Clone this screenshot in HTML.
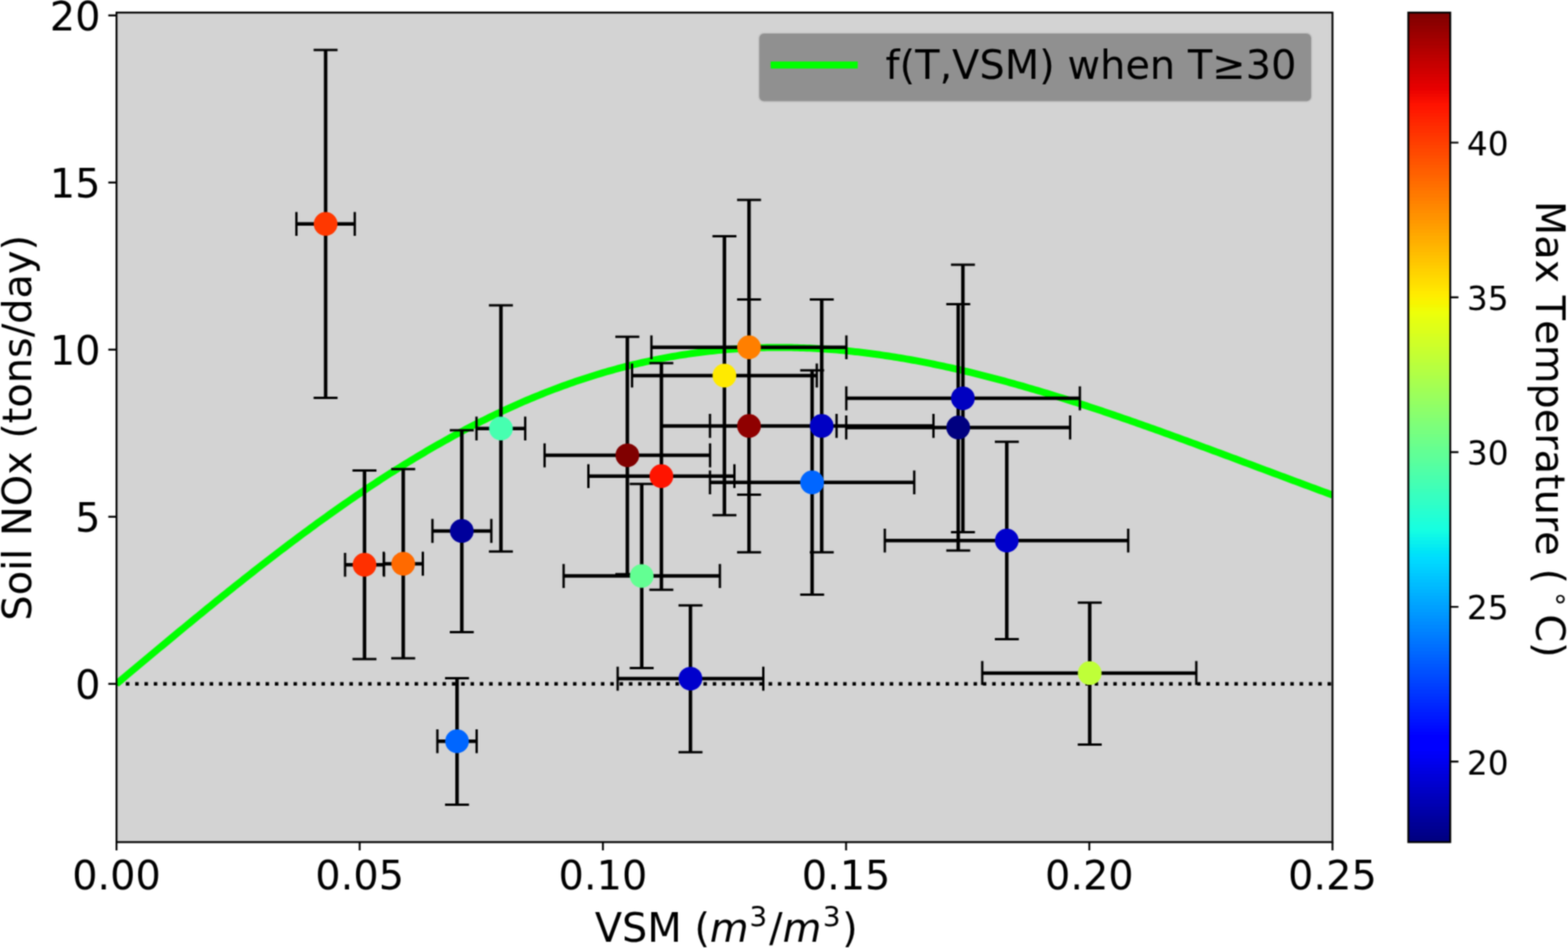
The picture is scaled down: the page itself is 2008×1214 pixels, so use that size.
<!DOCTYPE html>
<html><head><meta charset="utf-8"><title>Soil NOx vs VSM</title><style>html,body{margin:0;padding:0;background:#fff;width:2008px;height:1214px;overflow:hidden}svg{display:block}</style></head><body>
<svg width="2008" height="1214" viewBox="0 0 2008 1214">
<defs><filter id="soft" x="0" y="0" width="2008" height="1214" filterUnits="userSpaceOnUse" color-interpolation-filters="sRGB"><feConvolveMatrix order="5" kernelMatrix="0.00048 0.00501 0.01095 0.00501 0.00048 0.00501 0.05222 0.11405 0.05222 0.00501 0.01095 0.11405 0.24912 0.11405 0.01095 0.00501 0.05222 0.11405 0.05222 0.00501 0.00048 0.00501 0.01095 0.00501 0.00048" edgeMode="duplicate" preserveAlpha="true"/></filter>
<clipPath id="ax"><rect x="149.2" y="16.1" width="1557.2" height="1062.3"/></clipPath>
<linearGradient id="cb" x1="0" y1="1" x2="0" y2="0"><stop offset="0.00000" stop-color="#000080"/><stop offset="0.00391" stop-color="#000080"/><stop offset="0.00391" stop-color="#000084"/><stop offset="0.00781" stop-color="#000084"/><stop offset="0.00781" stop-color="#000089"/><stop offset="0.01172" stop-color="#000089"/><stop offset="0.01172" stop-color="#00008d"/><stop offset="0.01562" stop-color="#00008d"/><stop offset="0.01562" stop-color="#000092"/><stop offset="0.01953" stop-color="#000092"/><stop offset="0.01953" stop-color="#000096"/><stop offset="0.02344" stop-color="#000096"/><stop offset="0.02344" stop-color="#00009b"/><stop offset="0.02734" stop-color="#00009b"/><stop offset="0.02734" stop-color="#00009f"/><stop offset="0.03125" stop-color="#00009f"/><stop offset="0.03125" stop-color="#0000a4"/><stop offset="0.03516" stop-color="#0000a4"/><stop offset="0.03516" stop-color="#0000a8"/><stop offset="0.03906" stop-color="#0000a8"/><stop offset="0.03906" stop-color="#0000ad"/><stop offset="0.04297" stop-color="#0000ad"/><stop offset="0.04297" stop-color="#0000b2"/><stop offset="0.04688" stop-color="#0000b2"/><stop offset="0.04688" stop-color="#0000b6"/><stop offset="0.05078" stop-color="#0000b6"/><stop offset="0.05078" stop-color="#0000bb"/><stop offset="0.05469" stop-color="#0000bb"/><stop offset="0.05469" stop-color="#0000bf"/><stop offset="0.05859" stop-color="#0000bf"/><stop offset="0.05859" stop-color="#0000c4"/><stop offset="0.06250" stop-color="#0000c4"/><stop offset="0.06250" stop-color="#0000c8"/><stop offset="0.06641" stop-color="#0000c8"/><stop offset="0.06641" stop-color="#0000cd"/><stop offset="0.07031" stop-color="#0000cd"/><stop offset="0.07031" stop-color="#0000d1"/><stop offset="0.07422" stop-color="#0000d1"/><stop offset="0.07422" stop-color="#0000d6"/><stop offset="0.07812" stop-color="#0000d6"/><stop offset="0.07812" stop-color="#0000da"/><stop offset="0.08203" stop-color="#0000da"/><stop offset="0.08203" stop-color="#0000df"/><stop offset="0.08594" stop-color="#0000df"/><stop offset="0.08594" stop-color="#0000e3"/><stop offset="0.08984" stop-color="#0000e3"/><stop offset="0.08984" stop-color="#0000e8"/><stop offset="0.09375" stop-color="#0000e8"/><stop offset="0.09375" stop-color="#0000ed"/><stop offset="0.09766" stop-color="#0000ed"/><stop offset="0.09766" stop-color="#0000f1"/><stop offset="0.10156" stop-color="#0000f1"/><stop offset="0.10156" stop-color="#0000f6"/><stop offset="0.10547" stop-color="#0000f6"/><stop offset="0.10547" stop-color="#0000fa"/><stop offset="0.10938" stop-color="#0000fa"/><stop offset="0.10938" stop-color="#0000ff"/><stop offset="0.11328" stop-color="#0000ff"/><stop offset="0.11328" stop-color="#0000ff"/><stop offset="0.11719" stop-color="#0000ff"/><stop offset="0.11719" stop-color="#0000ff"/><stop offset="0.12109" stop-color="#0000ff"/><stop offset="0.12109" stop-color="#0000ff"/><stop offset="0.12500" stop-color="#0000ff"/><stop offset="0.12500" stop-color="#0000ff"/><stop offset="0.12891" stop-color="#0000ff"/><stop offset="0.12891" stop-color="#0004ff"/><stop offset="0.13281" stop-color="#0004ff"/><stop offset="0.13281" stop-color="#0008ff"/><stop offset="0.13672" stop-color="#0008ff"/><stop offset="0.13672" stop-color="#000cff"/><stop offset="0.14062" stop-color="#000cff"/><stop offset="0.14062" stop-color="#0010ff"/><stop offset="0.14453" stop-color="#0010ff"/><stop offset="0.14453" stop-color="#0014ff"/><stop offset="0.14844" stop-color="#0014ff"/><stop offset="0.14844" stop-color="#0018ff"/><stop offset="0.15234" stop-color="#0018ff"/><stop offset="0.15234" stop-color="#001cff"/><stop offset="0.15625" stop-color="#001cff"/><stop offset="0.15625" stop-color="#0020ff"/><stop offset="0.16016" stop-color="#0020ff"/><stop offset="0.16016" stop-color="#0024ff"/><stop offset="0.16406" stop-color="#0024ff"/><stop offset="0.16406" stop-color="#0028ff"/><stop offset="0.16797" stop-color="#0028ff"/><stop offset="0.16797" stop-color="#002cff"/><stop offset="0.17188" stop-color="#002cff"/><stop offset="0.17188" stop-color="#0030ff"/><stop offset="0.17578" stop-color="#0030ff"/><stop offset="0.17578" stop-color="#0034ff"/><stop offset="0.17969" stop-color="#0034ff"/><stop offset="0.17969" stop-color="#0038ff"/><stop offset="0.18359" stop-color="#0038ff"/><stop offset="0.18359" stop-color="#003cff"/><stop offset="0.18750" stop-color="#003cff"/><stop offset="0.18750" stop-color="#0040ff"/><stop offset="0.19141" stop-color="#0040ff"/><stop offset="0.19141" stop-color="#0044ff"/><stop offset="0.19531" stop-color="#0044ff"/><stop offset="0.19531" stop-color="#0048ff"/><stop offset="0.19922" stop-color="#0048ff"/><stop offset="0.19922" stop-color="#004cff"/><stop offset="0.20312" stop-color="#004cff"/><stop offset="0.20312" stop-color="#0050ff"/><stop offset="0.20703" stop-color="#0050ff"/><stop offset="0.20703" stop-color="#0054ff"/><stop offset="0.21094" stop-color="#0054ff"/><stop offset="0.21094" stop-color="#0058ff"/><stop offset="0.21484" stop-color="#0058ff"/><stop offset="0.21484" stop-color="#005cff"/><stop offset="0.21875" stop-color="#005cff"/><stop offset="0.21875" stop-color="#0060ff"/><stop offset="0.22266" stop-color="#0060ff"/><stop offset="0.22266" stop-color="#0064ff"/><stop offset="0.22656" stop-color="#0064ff"/><stop offset="0.22656" stop-color="#0068ff"/><stop offset="0.23047" stop-color="#0068ff"/><stop offset="0.23047" stop-color="#006cff"/><stop offset="0.23438" stop-color="#006cff"/><stop offset="0.23438" stop-color="#0070ff"/><stop offset="0.23828" stop-color="#0070ff"/><stop offset="0.23828" stop-color="#0074ff"/><stop offset="0.24219" stop-color="#0074ff"/><stop offset="0.24219" stop-color="#0078ff"/><stop offset="0.24609" stop-color="#0078ff"/><stop offset="0.24609" stop-color="#007cff"/><stop offset="0.25000" stop-color="#007cff"/><stop offset="0.25000" stop-color="#0080ff"/><stop offset="0.25391" stop-color="#0080ff"/><stop offset="0.25391" stop-color="#0084ff"/><stop offset="0.25781" stop-color="#0084ff"/><stop offset="0.25781" stop-color="#0088ff"/><stop offset="0.26172" stop-color="#0088ff"/><stop offset="0.26172" stop-color="#008cff"/><stop offset="0.26562" stop-color="#008cff"/><stop offset="0.26562" stop-color="#0090ff"/><stop offset="0.26953" stop-color="#0090ff"/><stop offset="0.26953" stop-color="#0094ff"/><stop offset="0.27344" stop-color="#0094ff"/><stop offset="0.27344" stop-color="#0098ff"/><stop offset="0.27734" stop-color="#0098ff"/><stop offset="0.27734" stop-color="#009cff"/><stop offset="0.28125" stop-color="#009cff"/><stop offset="0.28125" stop-color="#00a0ff"/><stop offset="0.28516" stop-color="#00a0ff"/><stop offset="0.28516" stop-color="#00a4ff"/><stop offset="0.28906" stop-color="#00a4ff"/><stop offset="0.28906" stop-color="#00a8ff"/><stop offset="0.29297" stop-color="#00a8ff"/><stop offset="0.29297" stop-color="#00acff"/><stop offset="0.29688" stop-color="#00acff"/><stop offset="0.29688" stop-color="#00b0ff"/><stop offset="0.30078" stop-color="#00b0ff"/><stop offset="0.30078" stop-color="#00b4ff"/><stop offset="0.30469" stop-color="#00b4ff"/><stop offset="0.30469" stop-color="#00b8ff"/><stop offset="0.30859" stop-color="#00b8ff"/><stop offset="0.30859" stop-color="#00bcff"/><stop offset="0.31250" stop-color="#00bcff"/><stop offset="0.31250" stop-color="#00c0ff"/><stop offset="0.31641" stop-color="#00c0ff"/><stop offset="0.31641" stop-color="#00c4ff"/><stop offset="0.32031" stop-color="#00c4ff"/><stop offset="0.32031" stop-color="#00c8ff"/><stop offset="0.32422" stop-color="#00c8ff"/><stop offset="0.32422" stop-color="#00ccff"/><stop offset="0.32812" stop-color="#00ccff"/><stop offset="0.32812" stop-color="#00d0ff"/><stop offset="0.33203" stop-color="#00d0ff"/><stop offset="0.33203" stop-color="#00d4ff"/><stop offset="0.33594" stop-color="#00d4ff"/><stop offset="0.33594" stop-color="#00d8ff"/><stop offset="0.33984" stop-color="#00d8ff"/><stop offset="0.33984" stop-color="#00dcfe"/><stop offset="0.34375" stop-color="#00dcfe"/><stop offset="0.34375" stop-color="#00e0fb"/><stop offset="0.34766" stop-color="#00e0fb"/><stop offset="0.34766" stop-color="#00e4f8"/><stop offset="0.35156" stop-color="#00e4f8"/><stop offset="0.35156" stop-color="#02e8f4"/><stop offset="0.35547" stop-color="#02e8f4"/><stop offset="0.35547" stop-color="#06ecf1"/><stop offset="0.35938" stop-color="#06ecf1"/><stop offset="0.35938" stop-color="#09f0ee"/><stop offset="0.36328" stop-color="#09f0ee"/><stop offset="0.36328" stop-color="#0cf4eb"/><stop offset="0.36719" stop-color="#0cf4eb"/><stop offset="0.36719" stop-color="#0ff8e7"/><stop offset="0.37109" stop-color="#0ff8e7"/><stop offset="0.37109" stop-color="#13fce4"/><stop offset="0.37500" stop-color="#13fce4"/><stop offset="0.37500" stop-color="#16ffe1"/><stop offset="0.37891" stop-color="#16ffe1"/><stop offset="0.37891" stop-color="#19ffde"/><stop offset="0.38281" stop-color="#19ffde"/><stop offset="0.38281" stop-color="#1cffdb"/><stop offset="0.38672" stop-color="#1cffdb"/><stop offset="0.38672" stop-color="#1fffd7"/><stop offset="0.39062" stop-color="#1fffd7"/><stop offset="0.39062" stop-color="#23ffd4"/><stop offset="0.39453" stop-color="#23ffd4"/><stop offset="0.39453" stop-color="#26ffd1"/><stop offset="0.39844" stop-color="#26ffd1"/><stop offset="0.39844" stop-color="#29ffce"/><stop offset="0.40234" stop-color="#29ffce"/><stop offset="0.40234" stop-color="#2cffca"/><stop offset="0.40625" stop-color="#2cffca"/><stop offset="0.40625" stop-color="#30ffc7"/><stop offset="0.41016" stop-color="#30ffc7"/><stop offset="0.41016" stop-color="#33ffc4"/><stop offset="0.41406" stop-color="#33ffc4"/><stop offset="0.41406" stop-color="#36ffc1"/><stop offset="0.41797" stop-color="#36ffc1"/><stop offset="0.41797" stop-color="#39ffbe"/><stop offset="0.42188" stop-color="#39ffbe"/><stop offset="0.42188" stop-color="#3cffba"/><stop offset="0.42578" stop-color="#3cffba"/><stop offset="0.42578" stop-color="#40ffb7"/><stop offset="0.42969" stop-color="#40ffb7"/><stop offset="0.42969" stop-color="#43ffb4"/><stop offset="0.43359" stop-color="#43ffb4"/><stop offset="0.43359" stop-color="#46ffb1"/><stop offset="0.43750" stop-color="#46ffb1"/><stop offset="0.43750" stop-color="#49ffad"/><stop offset="0.44141" stop-color="#49ffad"/><stop offset="0.44141" stop-color="#4dffaa"/><stop offset="0.44531" stop-color="#4dffaa"/><stop offset="0.44531" stop-color="#50ffa7"/><stop offset="0.44922" stop-color="#50ffa7"/><stop offset="0.44922" stop-color="#53ffa4"/><stop offset="0.45312" stop-color="#53ffa4"/><stop offset="0.45312" stop-color="#56ffa0"/><stop offset="0.45703" stop-color="#56ffa0"/><stop offset="0.45703" stop-color="#5aff9d"/><stop offset="0.46094" stop-color="#5aff9d"/><stop offset="0.46094" stop-color="#5dff9a"/><stop offset="0.46484" stop-color="#5dff9a"/><stop offset="0.46484" stop-color="#60ff97"/><stop offset="0.46875" stop-color="#60ff97"/><stop offset="0.46875" stop-color="#63ff94"/><stop offset="0.47266" stop-color="#63ff94"/><stop offset="0.47266" stop-color="#66ff90"/><stop offset="0.47656" stop-color="#66ff90"/><stop offset="0.47656" stop-color="#6aff8d"/><stop offset="0.48047" stop-color="#6aff8d"/><stop offset="0.48047" stop-color="#6dff8a"/><stop offset="0.48438" stop-color="#6dff8a"/><stop offset="0.48438" stop-color="#70ff87"/><stop offset="0.48828" stop-color="#70ff87"/><stop offset="0.48828" stop-color="#73ff83"/><stop offset="0.49219" stop-color="#73ff83"/><stop offset="0.49219" stop-color="#77ff80"/><stop offset="0.49609" stop-color="#77ff80"/><stop offset="0.49609" stop-color="#7aff7d"/><stop offset="0.50000" stop-color="#7aff7d"/><stop offset="0.50000" stop-color="#7dff7a"/><stop offset="0.50391" stop-color="#7dff7a"/><stop offset="0.50391" stop-color="#80ff77"/><stop offset="0.50781" stop-color="#80ff77"/><stop offset="0.50781" stop-color="#83ff73"/><stop offset="0.51172" stop-color="#83ff73"/><stop offset="0.51172" stop-color="#87ff70"/><stop offset="0.51562" stop-color="#87ff70"/><stop offset="0.51562" stop-color="#8aff6d"/><stop offset="0.51953" stop-color="#8aff6d"/><stop offset="0.51953" stop-color="#8dff6a"/><stop offset="0.52344" stop-color="#8dff6a"/><stop offset="0.52344" stop-color="#90ff66"/><stop offset="0.52734" stop-color="#90ff66"/><stop offset="0.52734" stop-color="#94ff63"/><stop offset="0.53125" stop-color="#94ff63"/><stop offset="0.53125" stop-color="#97ff60"/><stop offset="0.53516" stop-color="#97ff60"/><stop offset="0.53516" stop-color="#9aff5d"/><stop offset="0.53906" stop-color="#9aff5d"/><stop offset="0.53906" stop-color="#9dff5a"/><stop offset="0.54297" stop-color="#9dff5a"/><stop offset="0.54297" stop-color="#a0ff56"/><stop offset="0.54688" stop-color="#a0ff56"/><stop offset="0.54688" stop-color="#a4ff53"/><stop offset="0.55078" stop-color="#a4ff53"/><stop offset="0.55078" stop-color="#a7ff50"/><stop offset="0.55469" stop-color="#a7ff50"/><stop offset="0.55469" stop-color="#aaff4d"/><stop offset="0.55859" stop-color="#aaff4d"/><stop offset="0.55859" stop-color="#adff49"/><stop offset="0.56250" stop-color="#adff49"/><stop offset="0.56250" stop-color="#b1ff46"/><stop offset="0.56641" stop-color="#b1ff46"/><stop offset="0.56641" stop-color="#b4ff43"/><stop offset="0.57031" stop-color="#b4ff43"/><stop offset="0.57031" stop-color="#b7ff40"/><stop offset="0.57422" stop-color="#b7ff40"/><stop offset="0.57422" stop-color="#baff3c"/><stop offset="0.57812" stop-color="#baff3c"/><stop offset="0.57812" stop-color="#beff39"/><stop offset="0.58203" stop-color="#beff39"/><stop offset="0.58203" stop-color="#c1ff36"/><stop offset="0.58594" stop-color="#c1ff36"/><stop offset="0.58594" stop-color="#c4ff33"/><stop offset="0.58984" stop-color="#c4ff33"/><stop offset="0.58984" stop-color="#c7ff30"/><stop offset="0.59375" stop-color="#c7ff30"/><stop offset="0.59375" stop-color="#caff2c"/><stop offset="0.59766" stop-color="#caff2c"/><stop offset="0.59766" stop-color="#ceff29"/><stop offset="0.60156" stop-color="#ceff29"/><stop offset="0.60156" stop-color="#d1ff26"/><stop offset="0.60547" stop-color="#d1ff26"/><stop offset="0.60547" stop-color="#d4ff23"/><stop offset="0.60938" stop-color="#d4ff23"/><stop offset="0.60938" stop-color="#d7ff1f"/><stop offset="0.61328" stop-color="#d7ff1f"/><stop offset="0.61328" stop-color="#dbff1c"/><stop offset="0.61719" stop-color="#dbff1c"/><stop offset="0.61719" stop-color="#deff19"/><stop offset="0.62109" stop-color="#deff19"/><stop offset="0.62109" stop-color="#e1ff16"/><stop offset="0.62500" stop-color="#e1ff16"/><stop offset="0.62500" stop-color="#e4ff13"/><stop offset="0.62891" stop-color="#e4ff13"/><stop offset="0.62891" stop-color="#e7ff0f"/><stop offset="0.63281" stop-color="#e7ff0f"/><stop offset="0.63281" stop-color="#ebff0c"/><stop offset="0.63672" stop-color="#ebff0c"/><stop offset="0.63672" stop-color="#eeff09"/><stop offset="0.64062" stop-color="#eeff09"/><stop offset="0.64062" stop-color="#f1fc06"/><stop offset="0.64453" stop-color="#f1fc06"/><stop offset="0.64453" stop-color="#f4f802"/><stop offset="0.64844" stop-color="#f4f802"/><stop offset="0.64844" stop-color="#f8f500"/><stop offset="0.65234" stop-color="#f8f500"/><stop offset="0.65234" stop-color="#fbf100"/><stop offset="0.65625" stop-color="#fbf100"/><stop offset="0.65625" stop-color="#feed00"/><stop offset="0.66016" stop-color="#feed00"/><stop offset="0.66016" stop-color="#ffea00"/><stop offset="0.66406" stop-color="#ffea00"/><stop offset="0.66406" stop-color="#ffe600"/><stop offset="0.66797" stop-color="#ffe600"/><stop offset="0.66797" stop-color="#ffe200"/><stop offset="0.67188" stop-color="#ffe200"/><stop offset="0.67188" stop-color="#ffde00"/><stop offset="0.67578" stop-color="#ffde00"/><stop offset="0.67578" stop-color="#ffdb00"/><stop offset="0.67969" stop-color="#ffdb00"/><stop offset="0.67969" stop-color="#ffd700"/><stop offset="0.68359" stop-color="#ffd700"/><stop offset="0.68359" stop-color="#ffd300"/><stop offset="0.68750" stop-color="#ffd300"/><stop offset="0.68750" stop-color="#ffd000"/><stop offset="0.69141" stop-color="#ffd000"/><stop offset="0.69141" stop-color="#ffcc00"/><stop offset="0.69531" stop-color="#ffcc00"/><stop offset="0.69531" stop-color="#ffc800"/><stop offset="0.69922" stop-color="#ffc800"/><stop offset="0.69922" stop-color="#ffc400"/><stop offset="0.70312" stop-color="#ffc400"/><stop offset="0.70312" stop-color="#ffc100"/><stop offset="0.70703" stop-color="#ffc100"/><stop offset="0.70703" stop-color="#ffbd00"/><stop offset="0.71094" stop-color="#ffbd00"/><stop offset="0.71094" stop-color="#ffb900"/><stop offset="0.71484" stop-color="#ffb900"/><stop offset="0.71484" stop-color="#ffb600"/><stop offset="0.71875" stop-color="#ffb600"/><stop offset="0.71875" stop-color="#ffb200"/><stop offset="0.72266" stop-color="#ffb200"/><stop offset="0.72266" stop-color="#ffae00"/><stop offset="0.72656" stop-color="#ffae00"/><stop offset="0.72656" stop-color="#ffab00"/><stop offset="0.73047" stop-color="#ffab00"/><stop offset="0.73047" stop-color="#ffa700"/><stop offset="0.73438" stop-color="#ffa700"/><stop offset="0.73438" stop-color="#ffa300"/><stop offset="0.73828" stop-color="#ffa300"/><stop offset="0.73828" stop-color="#ff9f00"/><stop offset="0.74219" stop-color="#ff9f00"/><stop offset="0.74219" stop-color="#ff9c00"/><stop offset="0.74609" stop-color="#ff9c00"/><stop offset="0.74609" stop-color="#ff9800"/><stop offset="0.75000" stop-color="#ff9800"/><stop offset="0.75000" stop-color="#ff9400"/><stop offset="0.75391" stop-color="#ff9400"/><stop offset="0.75391" stop-color="#ff9100"/><stop offset="0.75781" stop-color="#ff9100"/><stop offset="0.75781" stop-color="#ff8d00"/><stop offset="0.76172" stop-color="#ff8d00"/><stop offset="0.76172" stop-color="#ff8900"/><stop offset="0.76562" stop-color="#ff8900"/><stop offset="0.76562" stop-color="#ff8600"/><stop offset="0.76953" stop-color="#ff8600"/><stop offset="0.76953" stop-color="#ff8200"/><stop offset="0.77344" stop-color="#ff8200"/><stop offset="0.77344" stop-color="#ff7e00"/><stop offset="0.77734" stop-color="#ff7e00"/><stop offset="0.77734" stop-color="#ff7a00"/><stop offset="0.78125" stop-color="#ff7a00"/><stop offset="0.78125" stop-color="#ff7700"/><stop offset="0.78516" stop-color="#ff7700"/><stop offset="0.78516" stop-color="#ff7300"/><stop offset="0.78906" stop-color="#ff7300"/><stop offset="0.78906" stop-color="#ff6f00"/><stop offset="0.79297" stop-color="#ff6f00"/><stop offset="0.79297" stop-color="#ff6c00"/><stop offset="0.79688" stop-color="#ff6c00"/><stop offset="0.79688" stop-color="#ff6800"/><stop offset="0.80078" stop-color="#ff6800"/><stop offset="0.80078" stop-color="#ff6400"/><stop offset="0.80469" stop-color="#ff6400"/><stop offset="0.80469" stop-color="#ff6000"/><stop offset="0.80859" stop-color="#ff6000"/><stop offset="0.80859" stop-color="#ff5d00"/><stop offset="0.81250" stop-color="#ff5d00"/><stop offset="0.81250" stop-color="#ff5900"/><stop offset="0.81641" stop-color="#ff5900"/><stop offset="0.81641" stop-color="#ff5500"/><stop offset="0.82031" stop-color="#ff5500"/><stop offset="0.82031" stop-color="#ff5200"/><stop offset="0.82422" stop-color="#ff5200"/><stop offset="0.82422" stop-color="#ff4e00"/><stop offset="0.82812" stop-color="#ff4e00"/><stop offset="0.82812" stop-color="#ff4a00"/><stop offset="0.83203" stop-color="#ff4a00"/><stop offset="0.83203" stop-color="#ff4700"/><stop offset="0.83594" stop-color="#ff4700"/><stop offset="0.83594" stop-color="#ff4300"/><stop offset="0.83984" stop-color="#ff4300"/><stop offset="0.83984" stop-color="#ff3f00"/><stop offset="0.84375" stop-color="#ff3f00"/><stop offset="0.84375" stop-color="#ff3b00"/><stop offset="0.84766" stop-color="#ff3b00"/><stop offset="0.84766" stop-color="#ff3800"/><stop offset="0.85156" stop-color="#ff3800"/><stop offset="0.85156" stop-color="#ff3400"/><stop offset="0.85547" stop-color="#ff3400"/><stop offset="0.85547" stop-color="#ff3000"/><stop offset="0.85938" stop-color="#ff3000"/><stop offset="0.85938" stop-color="#ff2d00"/><stop offset="0.86328" stop-color="#ff2d00"/><stop offset="0.86328" stop-color="#ff2900"/><stop offset="0.86719" stop-color="#ff2900"/><stop offset="0.86719" stop-color="#ff2500"/><stop offset="0.87109" stop-color="#ff2500"/><stop offset="0.87109" stop-color="#ff2200"/><stop offset="0.87500" stop-color="#ff2200"/><stop offset="0.87500" stop-color="#ff1e00"/><stop offset="0.87891" stop-color="#ff1e00"/><stop offset="0.87891" stop-color="#ff1a00"/><stop offset="0.88281" stop-color="#ff1a00"/><stop offset="0.88281" stop-color="#ff1600"/><stop offset="0.88672" stop-color="#ff1600"/><stop offset="0.88672" stop-color="#ff1300"/><stop offset="0.89062" stop-color="#ff1300"/><stop offset="0.89062" stop-color="#fa0f00"/><stop offset="0.89453" stop-color="#fa0f00"/><stop offset="0.89453" stop-color="#f60b00"/><stop offset="0.89844" stop-color="#f60b00"/><stop offset="0.89844" stop-color="#f10800"/><stop offset="0.90234" stop-color="#f10800"/><stop offset="0.90234" stop-color="#ed0400"/><stop offset="0.90625" stop-color="#ed0400"/><stop offset="0.90625" stop-color="#e80000"/><stop offset="0.91016" stop-color="#e80000"/><stop offset="0.91016" stop-color="#e40000"/><stop offset="0.91406" stop-color="#e40000"/><stop offset="0.91406" stop-color="#df0000"/><stop offset="0.91797" stop-color="#df0000"/><stop offset="0.91797" stop-color="#da0000"/><stop offset="0.92188" stop-color="#da0000"/><stop offset="0.92188" stop-color="#d60000"/><stop offset="0.92578" stop-color="#d60000"/><stop offset="0.92578" stop-color="#d10000"/><stop offset="0.92969" stop-color="#d10000"/><stop offset="0.92969" stop-color="#cd0000"/><stop offset="0.93359" stop-color="#cd0000"/><stop offset="0.93359" stop-color="#c80000"/><stop offset="0.93750" stop-color="#c80000"/><stop offset="0.93750" stop-color="#c40000"/><stop offset="0.94141" stop-color="#c40000"/><stop offset="0.94141" stop-color="#bf0000"/><stop offset="0.94531" stop-color="#bf0000"/><stop offset="0.94531" stop-color="#bb0000"/><stop offset="0.94922" stop-color="#bb0000"/><stop offset="0.94922" stop-color="#b60000"/><stop offset="0.95312" stop-color="#b60000"/><stop offset="0.95312" stop-color="#b20000"/><stop offset="0.95703" stop-color="#b20000"/><stop offset="0.95703" stop-color="#ad0000"/><stop offset="0.96094" stop-color="#ad0000"/><stop offset="0.96094" stop-color="#a80000"/><stop offset="0.96484" stop-color="#a80000"/><stop offset="0.96484" stop-color="#a40000"/><stop offset="0.96875" stop-color="#a40000"/><stop offset="0.96875" stop-color="#9f0000"/><stop offset="0.97266" stop-color="#9f0000"/><stop offset="0.97266" stop-color="#9b0000"/><stop offset="0.97656" stop-color="#9b0000"/><stop offset="0.97656" stop-color="#960000"/><stop offset="0.98047" stop-color="#960000"/><stop offset="0.98047" stop-color="#920000"/><stop offset="0.98438" stop-color="#920000"/><stop offset="0.98438" stop-color="#8d0000"/><stop offset="0.98828" stop-color="#8d0000"/><stop offset="0.98828" stop-color="#890000"/><stop offset="0.99219" stop-color="#890000"/><stop offset="0.99219" stop-color="#840000"/><stop offset="0.99609" stop-color="#840000"/><stop offset="0.99609" stop-color="#800000"/><stop offset="1.00000" stop-color="#800000"/></linearGradient></defs>
<g filter="url(#soft)">
<rect width="2008" height="1214" fill="#ffffff"/>
<rect x="149.2" y="16.1" width="1557.2" height="1062.3" fill="#d3d3d3"/>
<g clip-path="url(#ax)">
<line x1="149.2" y1="875.7" x2="1706.4" y2="875.7" stroke="#000" stroke-width="4.5" stroke-dasharray="4.5 7.43"/>
<polyline points="149.20,875.70 153.09,872.44 156.99,869.18 160.88,865.92 164.77,862.66 168.66,859.41 172.56,856.15 176.45,852.90 180.34,849.64 184.24,846.39 188.13,843.14 192.02,839.89 195.92,836.65 199.81,833.40 203.70,830.16 207.59,826.92 211.49,823.69 215.38,820.46 219.27,817.23 223.17,814.00 227.06,810.78 230.95,807.57 234.85,804.36 238.74,801.15 242.63,797.95 246.52,794.75 250.42,791.55 254.31,788.37 258.20,785.18 262.10,782.01 265.99,778.84 269.88,775.67 273.78,772.52 277.67,769.36 281.56,766.22 285.45,763.08 289.35,759.95 293.24,756.83 297.13,753.71 301.03,750.60 304.92,747.50 308.81,744.41 312.71,741.32 316.60,738.24 320.49,735.18 324.38,732.12 328.28,729.07 332.17,726.03 336.06,723.00 339.96,719.97 343.85,716.96 347.74,713.96 351.64,710.97 355.53,707.98 359.42,705.01 363.32,702.05 367.21,699.10 371.10,696.16 374.99,693.23 378.89,690.31 382.78,687.41 386.67,684.51 390.57,681.63 394.46,678.76 398.35,675.90 402.25,673.05 406.14,670.22 410.03,667.40 413.92,664.59 417.82,661.79 421.71,659.01 425.60,656.24 429.50,653.49 433.39,650.74 437.28,648.01 441.18,645.30 445.07,642.60 448.96,639.91 452.85,637.24 456.75,634.58 460.64,631.94 464.53,629.31 468.43,626.69 472.32,624.09 476.21,621.51 480.10,618.94 484.00,616.39 487.89,613.85 491.78,611.33 495.68,608.82 499.57,606.33 503.46,603.86 507.36,601.40 511.25,598.96 515.14,596.53 519.03,594.12 522.93,591.73 526.82,589.36 530.71,587.00 534.61,584.66 538.50,582.33 542.39,580.02 546.29,577.74 550.18,575.46 554.07,573.21 557.97,570.97 561.86,568.75 565.75,566.55 569.64,564.37 573.54,562.20 577.43,560.05 581.32,557.92 585.22,555.81 589.11,553.72 593.00,551.65 596.89,549.59 600.79,547.56 604.68,545.54 608.57,543.54 612.47,541.56 616.36,539.60 620.25,537.66 624.15,535.73 628.04,533.83 631.93,531.95 635.83,530.08 639.72,528.24 643.61,526.41 647.50,524.61 651.40,522.82 655.29,521.05 659.18,519.30 663.08,517.58 666.97,515.87 670.86,514.18 674.76,512.51 678.65,510.87 682.54,509.24 686.43,507.63 690.33,506.05 694.22,504.48 698.11,502.93 702.01,501.40 705.90,499.90 709.79,498.41 713.68,496.95 717.58,495.50 721.47,494.08 725.36,492.67 729.26,491.29 733.15,489.93 737.04,488.58 740.94,487.26 744.83,485.96 748.72,484.68 752.62,483.42 756.51,482.18 760.40,480.96 764.29,479.76 768.19,478.58 772.08,477.42 775.97,476.29 779.87,475.17 783.76,474.08 787.65,473.00 791.55,471.95 795.44,470.91 799.33,469.90 803.22,468.91 807.12,467.94 811.01,466.99 814.90,466.06 818.80,465.15 822.69,464.26 826.58,463.39 830.47,462.54 834.37,461.71 838.26,460.90 842.15,460.12 846.05,459.35 849.94,458.60 853.83,457.88 857.73,457.17 861.62,456.49 865.51,455.82 869.40,455.18 873.30,454.55 877.19,453.95 881.08,453.37 884.98,452.80 888.87,452.26 892.76,451.73 896.66,451.23 900.55,450.75 904.44,450.28 908.34,449.84 912.23,449.41 916.12,449.01 920.01,448.62 923.91,448.25 927.80,447.91 931.69,447.58 935.59,447.27 939.48,446.98 943.37,446.72 947.26,446.47 951.16,446.23 955.05,446.02 958.94,445.83 962.84,445.66 966.73,445.50 970.62,445.36 974.52,445.25 978.41,445.15 982.30,445.07 986.19,445.00 990.09,444.96 993.98,444.94 997.87,444.93 1001.77,444.94 1005.66,444.97 1009.55,445.02 1013.45,445.08 1017.34,445.16 1021.23,445.26 1025.12,445.38 1029.02,445.52 1032.91,445.67 1036.80,445.84 1040.70,446.03 1044.59,446.23 1048.48,446.45 1052.38,446.69 1056.27,446.95 1060.16,447.22 1064.06,447.51 1067.95,447.82 1071.84,448.14 1075.73,448.48 1079.63,448.83 1083.52,449.20 1087.41,449.59 1091.31,449.99 1095.20,450.41 1099.09,450.84 1102.99,451.29 1106.88,451.76 1110.77,452.24 1114.66,452.74 1118.56,453.25 1122.45,453.77 1126.34,454.32 1130.24,454.87 1134.13,455.44 1138.02,456.03 1141.91,456.63 1145.81,457.24 1149.70,457.87 1153.59,458.52 1157.49,459.17 1161.38,459.84 1165.27,460.53 1169.17,461.23 1173.06,461.94 1176.95,462.66 1180.85,463.40 1184.74,464.16 1188.63,464.92 1192.52,465.70 1196.42,466.49 1200.31,467.29 1204.20,468.11 1208.10,468.94 1211.99,469.78 1215.88,470.63 1219.78,471.50 1223.67,472.38 1227.56,473.26 1231.45,474.17 1235.35,475.08 1239.24,476.00 1243.13,476.94 1247.03,477.88 1250.92,478.84 1254.81,479.81 1258.71,480.79 1262.60,481.78 1266.49,482.78 1270.38,483.79 1274.28,484.81 1278.17,485.85 1282.06,486.89 1285.96,487.94 1289.85,489.00 1293.74,490.07 1297.64,491.15 1301.53,492.24 1305.42,493.34 1309.31,494.45 1313.21,495.57 1317.10,496.70 1320.99,497.83 1324.89,498.98 1328.78,500.13 1332.67,501.29 1336.57,502.46 1340.46,503.64 1344.35,504.83 1348.24,506.02 1352.14,507.22 1356.03,508.43 1359.92,509.65 1363.82,510.87 1367.71,512.11 1371.60,513.35 1375.50,514.59 1379.39,515.84 1383.28,517.10 1387.17,518.37 1391.07,519.64 1394.96,520.92 1398.85,522.21 1402.75,523.50 1406.64,524.80 1410.53,526.10 1414.43,527.41 1418.32,528.73 1422.21,530.05 1426.10,531.37 1430.00,532.71 1433.89,534.04 1437.78,535.38 1441.68,536.73 1445.57,538.08 1449.46,539.44 1453.36,540.80 1457.25,542.17 1461.14,543.54 1465.03,544.91 1468.93,546.29 1472.82,547.67 1476.71,549.06 1480.61,550.45 1484.50,551.84 1488.39,553.24 1492.29,554.64 1496.18,556.04 1500.07,557.45 1503.96,558.86 1507.86,560.27 1511.75,561.69 1515.64,563.11 1519.54,564.53 1523.43,565.95 1527.32,567.38 1531.21,568.81 1535.11,570.24 1539.00,571.68 1542.89,573.11 1546.79,574.55 1550.68,575.99 1554.57,577.43 1558.47,578.87 1562.36,580.31 1566.25,581.76 1570.14,583.21 1574.04,584.65 1577.93,586.10 1581.82,587.55 1585.72,589.00 1589.61,590.46 1593.50,591.91 1597.40,593.36 1601.29,594.81 1605.18,596.27 1609.08,597.72 1612.97,599.18 1616.86,600.63 1620.75,602.09 1624.65,603.54 1628.54,605.00 1632.43,606.45 1636.33,607.90 1640.22,609.36 1644.11,610.81 1648.01,612.26 1651.90,613.71 1655.79,615.16 1659.68,616.61 1663.58,618.06 1667.47,619.51 1671.36,620.96 1675.26,622.40 1679.15,623.85 1683.04,625.29 1686.94,626.73 1690.83,628.17 1694.72,629.61 1698.61,631.05 1702.51,632.48 1706.40,633.92" fill="none" stroke="#00ff00" stroke-width="9" stroke-linejoin="round"/>
<path d="M417.0 64.1V509.4M379.6 286.8H454.3M466.8 602.6V844.1M441.9 723.3H491.8M516.4 600.8V842.9M491.4 722.0H541.5M591.4 551.0V809.5M553.8 679.9H629.2M641.5 391.0V706.2M610.2 548.7H672.6M585.3 868.6V1030.4M560.1 949.3H610.4M803.4 431.2V735.2M697.4 583.1H909.3M847.0 464.9V755.3M753.5 609.7H940.5M821.8 619.7V855.5M721.8 737.6H921.9M884.2 775.2V963.2M791.0 869.1H977.5M927.7 302.4V659.8M809.4 481.0H1046.0M959.2 256.1V633.4M834.2 444.8H1083.9M959.2 383.5V707.2M847.0 545.4H1071.3M1040.0 474.2V761.5M909.2 617.8H1170.8M1052.3 383.5V707.2M909.2 545.4H1195.4M1227.1 389.6V704.9M1083.7 547.4H1370.4M1233.1 339.1V681.4M1083.8 510.1H1382.9M1289.3 565.8V818.5M1133.1 692.2H1444.8M1395.5 771.7V953.6M1257.9 861.9H1532.0" stroke="#000" stroke-width="4.5" fill="none"/>
<path d="M401.6 64.1h30.7M401.6 509.4h30.7M379.6 271.4v30.7M454.3 271.4v30.7M451.4 602.6h30.7M451.4 844.1h30.7M441.9 707.9v30.7M491.8 707.9v30.7M501.0 600.8h30.7M501.0 842.9h30.7M491.4 706.6v30.7M541.5 706.6v30.7M576.0 551.0h30.7M576.0 809.5h30.7M553.8 664.5v30.7M629.2 664.5v30.7M626.1 391.0h30.7M626.1 706.2h30.7M610.2 533.4v30.7M672.6 533.4v30.7M569.9 868.6h30.7M569.9 1030.4h30.7M560.1 933.9v30.7M610.4 933.9v30.7M788.0 431.2h30.7M788.0 735.2h30.7M697.4 567.8v30.7M909.3 567.8v30.7M831.6 464.9h30.7M831.6 755.3h30.7M753.5 594.4v30.7M940.5 594.4v30.7M806.4 619.7h30.7M806.4 855.5h30.7M721.8 722.2v30.7M921.9 722.2v30.7M868.9 775.2h30.7M868.9 963.2h30.7M791.0 853.8v30.7M977.5 853.8v30.7M912.4 302.4h30.7M912.4 659.8h30.7M809.4 465.6v30.7M1046.0 465.6v30.7M943.9 256.1h30.7M943.9 633.4h30.7M834.2 429.4v30.7M1083.9 429.4v30.7M943.9 383.5h30.7M943.9 707.2h30.7M847.0 530.0v30.7M1071.3 530.0v30.7M1024.7 474.2h30.7M1024.7 761.5h30.7M909.2 602.4v30.7M1170.8 602.4v30.7M1037.0 383.5h30.7M1037.0 707.2h30.7M909.2 530.0v30.7M1195.4 530.0v30.7M1211.8 389.6h30.7M1211.8 704.9h30.7M1083.7 532.0v30.7M1370.4 532.0v30.7M1217.8 339.1h30.7M1217.8 681.4h30.7M1083.8 494.8v30.7M1382.9 494.8v30.7M1274.0 565.8h30.7M1274.0 818.5h30.7M1133.1 676.9v30.7M1444.8 676.9v30.7M1380.2 771.7h30.7M1380.2 953.6h30.7M1257.9 846.5v30.7M1532.0 846.5v30.7" stroke="#000" stroke-width="3.0" fill="none"/>
<circle cx="417.0" cy="286.8" r="15.2" fill="#ff3800"/>
<circle cx="466.8" cy="723.3" r="15.2" fill="#ff3000"/>
<circle cx="516.4" cy="722.0" r="15.2" fill="#ff6a00"/>
<circle cx="591.4" cy="679.9" r="15.2" fill="#00009b"/>
<circle cx="641.5" cy="548.7" r="15.2" fill="#46ffb0"/>
<circle cx="585.3" cy="949.3" r="15.2" fill="#0066ff"/>
<circle cx="803.4" cy="583.1" r="15.2" fill="#800000"/>
<circle cx="847.0" cy="609.7" r="15.2" fill="#ff1400"/>
<circle cx="821.8" cy="737.6" r="15.2" fill="#63ff93"/>
<circle cx="884.2" cy="869.1" r="15.2" fill="#0000cc"/>
<circle cx="927.7" cy="481.0" r="15.2" fill="#ffea00"/>
<circle cx="959.2" cy="444.8" r="15.2" fill="#ff7f00"/>
<circle cx="959.2" cy="545.4" r="15.2" fill="#8f0000"/>
<circle cx="1040.0" cy="617.8" r="15.2" fill="#0066ff"/>
<circle cx="1052.3" cy="545.4" r="15.2" fill="#0000c4"/>
<circle cx="1227.1" cy="547.4" r="15.2" fill="#000080"/>
<circle cx="1233.1" cy="510.1" r="15.2" fill="#0000c0"/>
<circle cx="1289.3" cy="692.2" r="15.2" fill="#0000cc"/>
<circle cx="1395.5" cy="861.9" r="15.2" fill="#bfff38"/>
</g>
<rect x="149.2" y="16.1" width="1557.2" height="1062.3" fill="none" stroke="#000" stroke-width="2.4"/>
<path d="M149.2 1078.4v10.5M460.6 1078.4v10.5M772.1 1078.4v10.5M1083.5 1078.4v10.5M1395.0 1078.4v10.5M1706.4 1078.4v10.5M149.2 875.7h-10.5M149.2 661.7h-10.5M149.2 447.7h-10.5M149.2 233.7h-10.5M149.2 19.7h-10.5" stroke="#000" stroke-width="2.4"/>
<g font-family="DejaVu Sans, Liberation Sans, sans-serif" font-size="51" fill="#000">
<text x="149.2" y="1138.7" text-anchor="middle">0.00</text>
<text x="460.6" y="1138.7" text-anchor="middle">0.05</text>
<text x="772.1" y="1138.7" text-anchor="middle">0.10</text>
<text x="1083.5" y="1138.7" text-anchor="middle">0.15</text>
<text x="1395.0" y="1138.7" text-anchor="middle">0.20</text>
<text x="1706.4" y="1138.7" text-anchor="middle">0.25</text>
<text x="128.6" y="895.0" text-anchor="end">0</text>
<text x="128.6" y="681.0" text-anchor="end">5</text>
<text x="128.6" y="467.0" text-anchor="end">10</text>
<text x="128.6" y="253.0" text-anchor="end">15</text>
<text x="128.6" y="39.0" text-anchor="end">20</text>
<text transform="translate(40.2 547.8) rotate(-90)" text-anchor="middle">Soil NOx (tons/day)</text>
<text x="761.7" y="1206" style="font-kerning:none">VSM (<tspan font-style="italic">m</tspan><tspan font-size="35.7" dx="0.9" dy="-19.8">3</tspan><tspan dx="2.7" dy="19.8">/</tspan><tspan font-style="italic">m</tspan><tspan font-size="35.7" dx="1.9" dy="-19.8">3</tspan><tspan dx="1.8" dy="19.8">)</tspan></text>
</g>
<rect x="971.3" y="41.9" width="708.8" height="88.7" rx="7" ry="7" fill="#808080" fill-opacity="0.8" stroke="#cccccc" stroke-opacity="0.8" stroke-width="2.2"/>
<line x1="986.9" y1="83.2" x2="1098.4" y2="83.2" stroke="#00ff00" stroke-width="9"/>
<text x="1134.0" y="101.3" font-family="DejaVu Sans, Liberation Sans, sans-serif" font-size="51.1">f(T,VSM) when T≥30</text>
<rect x="1803.5" y="16.1" width="53.7" height="1062.3" fill="url(#cb)"/>
<rect x="1803.5" y="16.1" width="53.7" height="1062.3" fill="none" stroke="#000" stroke-width="2.4"/>
<path d="M1857.2 975.3h10.5M1857.2 777.1h10.5M1857.2 579.0h10.5M1857.2 380.8h10.5M1857.2 182.6h10.5" stroke="#000" stroke-width="2.4"/>
<g font-family="DejaVu Sans, Liberation Sans, sans-serif" font-size="42">
<text x="1878.5" y="991.6">20</text>
<text x="1878.5" y="793.4">25</text>
<text x="1878.5" y="595.2">30</text>
<text x="1878.5" y="397.1">35</text>
<text x="1878.5" y="198.9">40</text>
</g>
<text transform="translate(1967.4 257.2) rotate(90)" font-family="DejaVu Sans, Liberation Sans, sans-serif" font-size="51" style="font-kerning:none">Max Temperature (<tspan font-size="35.7" dx="8.2" dy="-19.8">∘</tspan><tspan dx="8.4" dy="19.8">C)</tspan></text>
</g>
</svg>
</body></html>
